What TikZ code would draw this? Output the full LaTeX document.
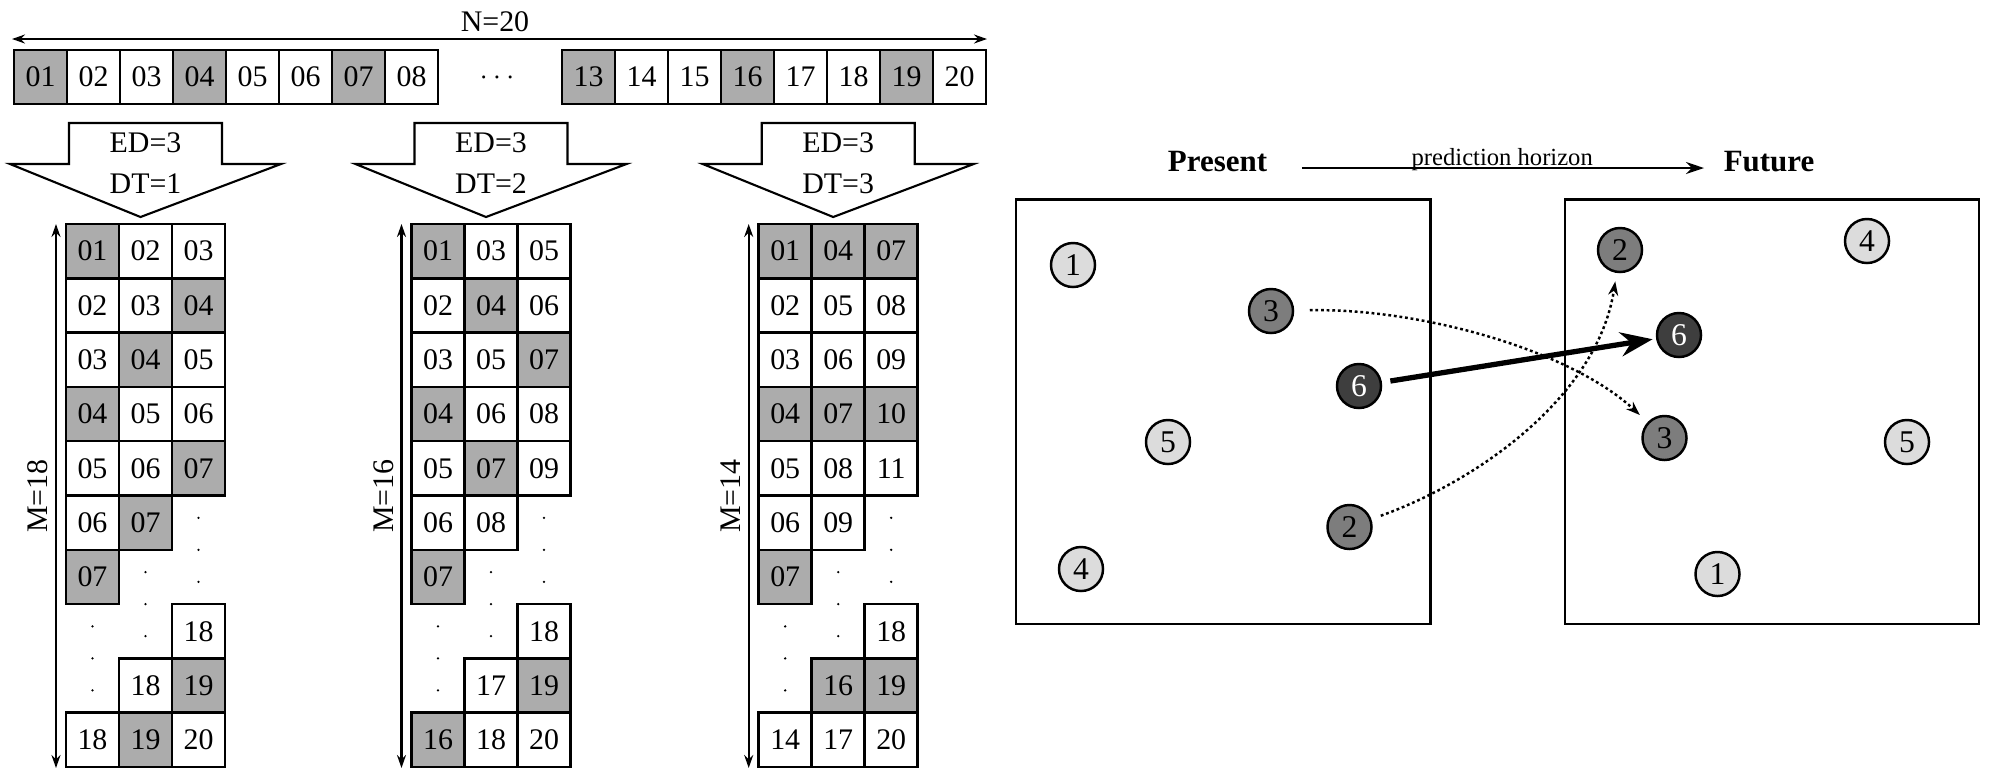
\documentclass[tikz,border=0pt]{standalone}
\usepackage{fontspec}
\setmainfont{Liberation Serif}
\usetikzlibrary{arrows.meta}

\definecolor{hi}{RGB}{172,172,172}
\colorlet{lo}{white}
\definecolor{lightdot}{RGB}{220,220,220}
\definecolor{middot}{RGB}{125,125,125}
\definecolor{darkdot}{RGB}{62,62,62}

\begin{document}
\begin{tikzpicture}[x=0.01cm, y=-0.01cm,
  cell/.style={draw, line width=0.7pt, minimum width=0.53cm, minimum height=0.543cm, inner sep=0pt, font=\fontsize{8.5}{10}\selectfont},
  lbl/.style={inner sep=0pt, font=\fontsize{8.5}{10}\selectfont},
  vec/.style={line width=0.6pt, >={Stealth[length=1.3mm,width=0.9mm]}, <->},
  blockarrow/.style={draw, line width=0.6pt, line join=miter},
  frame/.style={draw, line width=0.7pt},
  agent/.style={circle, draw, line width=0.7pt, minimum size=0.44cm, inner sep=0pt, font=\fontsize{9}{10}\selectfont},
  light/.style={agent, fill=lightdot},
  mid/.style={agent, fill=middot},
  dark/.style={agent, fill=darkdot, text=white},
  head/.style={inner sep=0pt, font=\bfseries\fontsize{8.8}{10}\selectfont},
  move/.style={line width=1.5pt, >={Stealth[length=3.2mm,width=2.4mm]}, ->},
  guess/.style={line width=0.7pt, dash pattern=on 0.8pt off 0.8pt, >={Stealth[length=1.4mm,width=1mm]}, ->}
]
\useasboundingbox (0,0) rectangle (2000,778);

% series of length N
\coordinate (nleft) at (12,39);
\coordinate (nright) at (987,39);
\draw[vec] (nleft) -- (nright);
\node[lbl] (ntext) at (495,22) {N=20};
\foreach \lab/\f [count=\i from 0] in {01/hi,02/lo,03/lo,04/hi,05/lo,06/lo,07/hi,08/lo}
  \node[cell, fill=\f] (top\lab) at (40.5+53*\i,77) {\lab};
\foreach \lab/\f [count=\i from 0] in {13/hi,14/lo,15/lo,16/hi,17/lo,18/lo,19/hi,20/lo}
  \node[cell, fill=\f] (top\lab) at (588.5+53*\i,77) {\lab};
\node[lbl] (topdots) at (497,78) {$\cdots$};

% block arrows
\foreach \cx/\dt in {145.5/1,491/2,838.2/3} {
  \draw[blockarrow] (\cx-76.5,123) -- (\cx+76.5,123) -- (\cx+76.5,164) -- (\cx+135.5,164)
    -- (\cx-5,217) -- (\cx-135.5,164) -- (\cx-76.5,164) -- cycle;
  \node[lbl] (ed\dt) at (\cx,143) {ED=3};
  \node[lbl] (dt\dt) at (\cx,184) {DT=\dt};
}

% embedded matrices
\foreach \row [count=\r] in {{1/01/hi,2/02/lo,3/03/lo},{1/02/lo,2/03/lo,3/04/hi},{1/03/lo,2/04/hi,3/05/lo},
    {1/04/hi,2/05/lo,3/06/lo},{1/05/lo,2/06/lo,3/07/hi},{1/06/lo,2/07/hi},{1/07/hi},{3/18/lo},
    {2/18/lo,3/19/hi},{1/18/lo,2/19/hi,3/20/lo}}
  \foreach \c/\lab/\f in \row
    \node[cell, fill=\f] (one-\r-\c) at (66+53*\c-26.5,224+54.3*\r-27.15) {\lab};
\foreach \row [count=\r] in {{1/01/hi,2/03/lo,3/05/lo},{1/02/lo,2/04/hi,3/06/lo},{1/03/lo,2/05/lo,3/07/hi},
    {1/04/hi,2/06/lo,3/08/lo},{1/05/lo,2/07/hi,3/09/lo},{1/06/lo,2/08/lo},{1/07/hi},{3/18/lo},
    {2/17/lo,3/19/hi},{1/16/hi,2/18/lo,3/20/lo}}
  \foreach \c/\lab/\f in \row
    \node[cell, fill=\f] (two-\r-\c) at (411.5+53*\c-26.5,224+54.3*\r-27.15) {\lab};
\foreach \row [count=\r] in {{1/01/hi,2/04/hi,3/07/hi},{1/02/lo,2/05/lo,3/08/lo},{1/03/lo,2/06/lo,3/09/lo},
    {1/04/hi,2/07/hi,3/10/hi},{1/05/lo,2/08/lo,3/11/lo},{1/06/lo,2/09/lo},{1/07/hi},{3/18/lo},
    {2/16/hi,3/19/hi},{1/14/lo,2/17/lo,3/20/lo}}
  \foreach \c/\lab/\f in \row
    \node[cell, fill=\f] (three-\r-\c) at (758.7+53*\c-26.5,224+54.3*\r-27.15) {\lab};

% vertical dots
\foreach \mx in {66,411.5,758.7}
  \foreach \c/\yc in {1/658.4,2/604.1,3/549.8}
    \foreach \d in {-32,0,32}
      \fill (\mx+53*\c-26.5,\yc+\d) circle[radius=1.3];

% lengths M
\foreach \mx/\m/\name in {66/18/one,411.5/16/two,758.7/14/three} {
  \coordinate (\name-top) at (\mx-10,224);
  \coordinate (\name-bot) at (\mx-10,768);
  \draw[vec] (\name-top) -- (\name-bot);
  \node[lbl, rotate=90] (\name-m) at (\mx-28,496) {M=\m};
}

% present and future
\draw[frame] (1016,199.5) rectangle (1430.5,624);
\draw[frame] (1565,199.5) rectangle (1979,624);
\node[head, anchor=base] (present) at (1217.5,171) {Present};
\node[head, anchor=base] (future) at (1769,171) {Future};
\draw[line width=0.7pt, >={Stealth[length=1.8mm,width=1.2mm]}, ->, shorten <=0.34cm, shorten >=0.19cm]
  ([yshift=0.85pt]present.base east) -- ([yshift=0.85pt]future.base west)
  node[pos=0.515, anchor=base, yshift=0.85pt, inner sep=0pt, font=\fontsize{7}{8}\selectfont] (horizon) {prediction horizon};

\node[light] (p1) at (1073,265) {1};
\node[mid] (p3) at (1271,311) {3};
\node[dark] (p6) at (1359,386) {6};
\node[light] (p5) at (1168,442) {5};
\node[mid] (p2) at (1349.5,527) {2};
\node[light] (p4) at (1081,569) {4};

\node[mid] (f2) at (1620,250) {2};
\node[light] (f4) at (1867,241) {4};
\node[dark] (f6) at (1679,335) {6};
\node[mid] (f3) at (1664.5,438) {3};
\node[light] (f5) at (1907,442) {5};
\node[light] (f1) at (1717.5,574) {1};

\draw[move, shorten <=0.085cm, shorten >=0.035cm] (p6) -- (f6);
\draw[guess, shorten <=0.155cm, shorten >=0.105cm] (p3) .. controls (1420,308) and (1570,350) .. (f3);
\draw[guess, shorten <=0.1cm, shorten >=0.085cm] (p2) .. controls (1480,480) and (1598,395) .. (f2);

\end{tikzpicture}
\end{document}
